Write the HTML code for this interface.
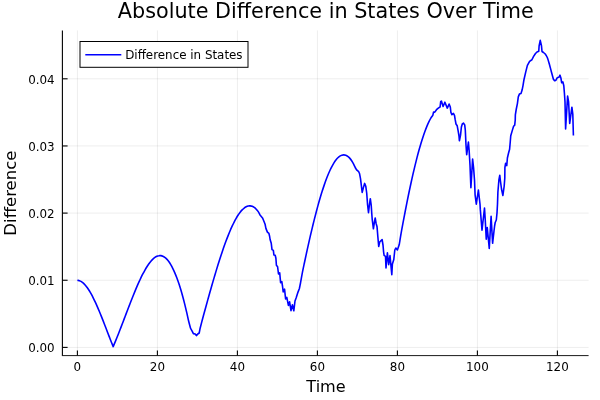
<!DOCTYPE html>
<html lang="en">
<head>
<meta charset="utf-8">
<title>Absolute Difference in States Over Time</title>
<style>
html,body{margin:0;padding:0;background:#fff;}
body{width:600px;height:400px;overflow:hidden;}
svg{display:block;}
text{font-family:"DejaVu Sans","Liberation Sans",sans-serif;fill:#000;}
.title{font-size:20.76px;}
.guide{font-size:16.3px;}
.tick{font-size:11.9px;}
.grid line{stroke:#000;stroke-opacity:0.1;stroke-width:0.7;}
.axis line{stroke:#000;stroke-width:1.1;}
</style>
</head>
<body>
<svg width="600" height="400" viewBox="0 0 600 400">
<rect width="600" height="400" fill="#fff"/>

<g class="grid">
<line x1="77.40" y1="30.4" x2="77.40" y2="355.6"/>
<line x1="157.40" y1="30.4" x2="157.40" y2="355.6"/>
<line x1="237.40" y1="30.4" x2="237.40" y2="355.6"/>
<line x1="317.40" y1="30.4" x2="317.40" y2="355.6"/>
<line x1="397.40" y1="30.4" x2="397.40" y2="355.6"/>
<line x1="477.40" y1="30.4" x2="477.40" y2="355.6"/>
<line x1="557.40" y1="30.4" x2="557.40" y2="355.6"/>
<line x1="62.4" y1="347.40" x2="588.6" y2="347.40"/>
<line x1="62.4" y1="280.25" x2="588.6" y2="280.25"/>
<line x1="62.4" y1="213.10" x2="588.6" y2="213.10"/>
<line x1="62.4" y1="145.95" x2="588.6" y2="145.95"/>
<line x1="62.4" y1="78.80" x2="588.6" y2="78.80"/>
</g>
<g class="axis">
<line x1="61.9" y1="355.6" x2="588.6" y2="355.6" style="stroke-width:1;stroke:#1a1a1a"/>
<line x1="62.4" y1="30.4" x2="62.4" y2="355.6"/>
<line x1="77.40" y1="355.6" x2="77.40" y2="350.40000000000003"/>
<line x1="157.40" y1="355.6" x2="157.40" y2="350.40000000000003"/>
<line x1="237.40" y1="355.6" x2="237.40" y2="350.40000000000003"/>
<line x1="317.40" y1="355.6" x2="317.40" y2="350.40000000000003"/>
<line x1="397.40" y1="355.6" x2="397.40" y2="350.40000000000003"/>
<line x1="477.40" y1="355.6" x2="477.40" y2="350.40000000000003"/>
<line x1="557.40" y1="355.6" x2="557.40" y2="350.40000000000003"/>
<line x1="62.4" y1="347.40" x2="67.6" y2="347.40"/>
<line x1="62.4" y1="280.25" x2="67.6" y2="280.25"/>
<line x1="62.4" y1="213.10" x2="67.6" y2="213.10"/>
<line x1="62.4" y1="145.95" x2="67.6" y2="145.95"/>
<line x1="62.4" y1="78.80" x2="67.6" y2="78.80"/>
</g>
<text class="tick" x="77.40" y="371.3" text-anchor="middle">0</text>
<text class="tick" x="157.40" y="371.3" text-anchor="middle">20</text>
<text class="tick" x="237.40" y="371.3" text-anchor="middle">40</text>
<text class="tick" x="317.40" y="371.3" text-anchor="middle">60</text>
<text class="tick" x="397.40" y="371.3" text-anchor="middle">80</text>
<text class="tick" x="477.40" y="371.3" text-anchor="middle">100</text>
<text class="tick" x="557.40" y="371.3" text-anchor="middle">120</text>
<text class="tick" x="54.65" y="352.45" text-anchor="end">0.00</text>
<text class="tick" x="54.65" y="285.30" text-anchor="end">0.01</text>
<text class="tick" x="54.65" y="218.15" text-anchor="end">0.02</text>
<text class="tick" x="54.65" y="151.00" text-anchor="end">0.03</text>
<text class="tick" x="54.65" y="83.85" text-anchor="end">0.04</text>
<text class="title" x="325.8" y="18" text-anchor="middle">Absolute Difference in States Over Time</text>
<text class="guide" style="font-size:16.1px" x="326.0" y="391.7" text-anchor="middle">Time</text>
<text class="guide" style="font-size:16.5px" transform="translate(16.2,193.1) rotate(-90)" text-anchor="middle">Difference</text>
<path d="M77.40,280.30 C78.06,280.43 78.75,280.47 79.39,280.68 C80.08,280.90 80.75,281.21 81.38,281.59 C82.09,282.03 82.75,282.55 83.37,283.11 C84.08,283.75 84.73,284.45 85.36,285.17 C86.06,285.99 86.72,286.86 87.34,287.74 C88.04,288.73 88.70,289.74 89.33,290.77 C90.03,291.90 90.69,293.06 91.32,294.22 C92.01,295.48 92.67,296.76 93.31,298.04 C94.00,299.41 94.65,300.80 95.30,302.19 C95.98,303.66 96.64,305.14 97.29,306.62 C97.97,308.17 98.63,309.73 99.28,311.29 C99.95,312.90 100.61,314.53 101.27,316.15 C101.94,317.82 102.60,319.49 103.26,321.16 C103.92,322.86 104.58,324.57 105.24,326.27 C105.91,328.00 106.57,329.72 107.23,331.45 C107.90,333.18 108.56,334.91 109.22,336.63 C109.88,338.35 110.53,340.08 111.21,341.79 C111.85,343.40 112.54,345.00 113.20,346.60 C113.86,345.01 114.53,343.43 115.18,341.84 C115.85,340.21 116.52,338.59 117.17,336.96 C117.84,335.30 118.50,333.63 119.15,331.96 C119.82,330.26 120.48,328.55 121.14,326.85 C121.80,325.13 122.46,323.40 123.12,321.68 C123.79,319.94 124.45,318.21 125.11,316.47 C125.77,314.74 126.43,313.00 127.09,311.27 C127.75,309.54 128.41,307.82 129.08,306.10 C129.73,304.40 130.39,302.69 131.06,301.00 C131.72,299.33 132.38,297.66 133.05,296.00 C133.70,294.37 134.36,292.75 135.03,291.14 C135.68,289.57 136.34,288.00 137.02,286.44 C137.66,284.94 138.32,283.44 139.00,281.95 C139.65,280.53 140.31,279.11 140.98,277.70 C141.63,276.37 142.29,275.04 142.97,273.72 C143.61,272.48 144.27,271.26 144.95,270.04 C145.59,268.92 146.25,267.80 146.94,266.71 C147.57,265.70 148.23,264.71 148.92,263.74 C149.55,262.86 150.21,262.00 150.91,261.18 C151.53,260.44 152.19,259.72 152.89,259.06 C153.52,258.47 154.17,257.90 154.88,257.41 C155.50,256.97 156.16,256.57 156.86,256.27 C157.49,255.99 158.16,255.77 158.85,255.67 C159.50,255.56 160.18,255.55 160.83,255.64 C161.51,255.73 162.19,255.93 162.82,256.21 C163.52,256.52 164.18,256.93 164.80,257.39 C165.51,257.92 166.17,258.53 166.78,259.17 C167.50,259.93 168.16,260.74 168.77,261.58 C169.48,262.56 170.14,263.57 170.75,264.61 C171.46,265.81 172.12,267.03 172.74,268.28 C173.44,269.69 174.10,271.12 174.72,272.57 C175.42,274.21 176.08,275.86 176.71,277.52 C177.41,279.37 178.06,281.23 178.69,283.11 C179.39,285.18 180.05,287.26 180.68,289.35 C181.37,291.65 182.03,293.95 182.66,296.26 C183.35,298.78 184.01,301.31 184.65,303.84 C185.33,306.58 185.99,309.33 186.63,312.09 C187.32,315.06 187.89,318.06 188.62,321.02 C189.22,323.49 189.94,325.94 190.60,328.40 L192.00,330.80 L193.40,333.60 L195.20,334.00 L196.40,335.60 L197.80,334.00 L199.20,333.00 L200.00,328.80 C200.67,326.18 201.32,323.56 202.01,320.95 C202.66,318.49 203.35,316.03 204.02,313.57 C204.68,311.13 205.35,308.69 206.03,306.24 C206.69,303.82 207.36,301.40 208.03,298.98 C208.70,296.59 209.37,294.20 210.04,291.82 C210.71,289.47 211.37,287.12 212.05,284.77 C212.71,282.46 213.38,280.16 214.06,277.86 C214.72,275.61 215.39,273.37 216.07,271.12 C216.73,268.94 217.40,266.76 218.07,264.58 C218.73,262.46 219.40,260.35 220.08,258.25 C220.74,256.21 221.41,254.18 222.09,252.16 C222.75,250.21 223.42,248.27 224.10,246.33 C224.75,244.48 225.42,242.64 226.11,240.80 C226.76,239.05 227.43,237.31 228.12,235.58 C228.77,233.94 229.43,232.31 230.12,230.70 C230.77,229.18 231.44,227.67 232.13,226.18 C232.78,224.79 233.44,223.41 234.14,222.05 C234.78,220.79 235.45,219.55 236.15,218.33 C236.79,217.22 237.45,216.12 238.16,215.05 C238.79,214.08 239.46,213.14 240.17,212.23 C240.80,211.42 241.46,210.63 242.18,209.89 C242.80,209.24 243.47,208.62 244.18,208.07 C244.81,207.58 245.48,207.13 246.19,206.78 C246.83,206.46 247.50,206.20 248.20,206.05 C248.86,205.90 249.54,205.85 250.21,205.90 C250.89,205.95 251.58,206.11 252.22,206.36 C252.93,206.63 253.60,207.01 254.22,207.45 C254.95,207.97 255.62,208.56 256.23,209.20 C256.96,209.96 257.66,210.76 258.24,211.63 C259.00,212.78 259.58,214.04 260.25,215.25 L262.50,217.90 L263.60,220.50 L265.10,224.25 L265.90,228.40 L267.40,232.10 L268.90,233.40 L269.60,236.25 L270.10,239.50 L271.25,243.25 L272.00,249.60 L273.35,250.40 L273.90,254.90 L275.20,255.25 L275.90,258.25 L276.40,265.25 L277.60,266.75 L278.50,274.00 L279.70,272.80 L280.60,282.60 L281.80,281.60 L282.50,286.00 L283.20,291.90 L284.55,289.20 L285.60,299.00 L286.80,297.40 L288.40,305.40 L289.60,301.80 L291.00,310.60 L292.40,304.80 L293.80,310.80 L295.00,301.00 L296.20,297.80 L298.00,292.10 L299.40,288.50 L300.50,283.00 C301.16,279.39 301.77,275.77 302.47,272.17 C303.08,269.01 303.77,265.87 304.44,262.72 C305.08,259.65 305.74,256.58 306.40,253.51 C307.05,250.53 307.71,247.54 308.37,244.57 C309.02,241.68 309.67,238.80 310.34,235.92 C310.98,233.13 311.64,230.35 312.31,227.58 C312.95,224.91 313.60,222.24 314.27,219.58 C314.92,217.02 315.57,214.47 316.24,211.93 C316.88,209.50 317.54,207.08 318.21,204.66 C318.85,202.37 319.50,200.08 320.18,197.80 C320.82,195.65 321.47,193.50 322.15,191.36 C322.78,189.36 323.43,187.36 324.11,185.37 C324.75,183.52 325.40,181.67 326.08,179.84 C326.71,178.15 327.36,176.47 328.05,174.81 C328.68,173.29 329.33,171.78 330.02,170.28 C330.64,168.94 331.29,167.60 331.99,166.30 C332.60,165.13 333.25,163.98 333.95,162.86 C334.57,161.89 335.22,160.93 335.92,160.01 C336.53,159.22 337.18,158.46 337.89,157.76 C338.50,157.17 339.15,156.61 339.86,156.14 C340.47,155.73 341.13,155.39 341.83,155.16 C342.46,154.95 343.13,154.83 343.79,154.85 C344.46,154.86 345.13,154.99 345.76,155.22 C346.46,155.49 347.13,155.87 347.73,156.32 C348.45,156.85 349.10,157.47 349.70,158.14 C350.42,158.95 351.07,159.82 351.66,160.72 C352.38,161.81 353.03,162.93 353.63,164.08 C354.35,165.46 354.94,166.89 355.60,168.30 L356.90,170.20 L358.70,171.70 L359.60,173.80 L360.50,178.60 L361.30,185.20 L362.20,192.40 L363.40,187.60 L364.60,183.40 L365.80,186.40 L366.70,193.00 L367.60,205.00 L368.50,212.60 L369.40,205.00 L370.30,198.70 L371.20,205.00 L371.80,214.00 L372.20,219.20 L373.40,228.80 L374.30,222.80 L375.20,218.00 L376.10,223.40 L377.00,226.40 L377.30,230.00 L377.90,237.20 L378.70,246.50 L379.70,242.00 L382.10,239.50 L383.00,245.00 L383.60,252.00 L384.10,255.30 L385.50,256.30 L386.00,267.90 L387.40,252.80 L388.70,264.70 L390.00,255.60 L391.80,274.60 L392.40,264.00 L393.80,259.50 L394.80,250.00 L395.80,248.00 L397.40,250.00 L399.20,244.80 C399.86,240.83 400.48,236.85 401.18,232.88 C401.80,229.30 402.48,225.72 403.15,222.15 C403.80,218.68 404.46,215.21 405.13,211.74 C405.78,208.39 406.43,205.04 407.11,201.69 C407.75,198.47 408.41,195.24 409.08,192.02 C409.73,188.93 410.38,185.84 411.06,182.76 C411.70,179.81 412.36,176.87 413.04,173.93 C413.68,171.13 414.33,168.34 415.01,165.56 C415.65,162.92 416.31,160.29 416.99,157.67 C417.63,155.20 418.28,152.74 418.96,150.29 C419.60,148.00 420.26,145.72 420.94,143.45 C421.57,141.34 422.23,139.25 422.92,137.16 C423.55,135.26 424.20,133.36 424.89,131.47 C425.52,129.76 426.17,128.07 426.87,126.39 C427.49,124.89 428.14,123.41 428.85,121.95 C429.46,120.67 430.09,119.38 430.82,118.17 C431.41,117.20 432.14,116.32 432.80,115.40 L433.60,112.00 L434.80,112.10 L436.50,109.70 L438.60,107.90 L440.10,107.00 L440.70,101.60 L441.40,101.00 L443.10,106.40 L444.90,102.20 L447.30,108.10 L449.10,104.10 L450.30,107.00 L450.90,112.40 L451.90,114.70 L453.40,113.40 L454.50,115.40 L455.10,119.20 L456.00,124.00 L457.20,125.80 L458.10,130.60 L459.00,136.00 L459.40,140.80 L460.50,135.40 L461.40,127.00 L462.30,124.00 L463.50,123.10 L464.70,124.90 L465.30,130.00 L466.00,145.00 L466.70,154.60 L468.40,142.10 L469.10,150.00 L470.00,165.00 L470.90,187.70 L472.60,159.10 L473.60,168.00 L474.50,180.00 L475.10,195.00 L476.30,204.20 L478.40,190.00 L479.30,198.00 L480.00,204.00 L480.30,209.40 L482.00,230.20 L484.50,208.00 L485.25,220.00 L486.25,239.10 L487.25,227.50 L489.25,248.40 L491.10,216.40 L492.60,243.30 L494.00,231.00 L494.60,226.00 L495.20,222.50 L496.30,220.00 L497.00,213.00 L497.50,204.00 L497.90,192.00 L498.90,180.00 L499.80,175.25 L500.30,180.00 L501.50,189.00 L502.90,195.50 L504.20,186.00 L504.80,178.00 L504.90,167.50 L505.60,163.30 L506.75,165.60 L507.40,158.00 L508.50,153.20 L509.60,149.25 L510.20,142.50 L510.75,135.75 L512.40,130.10 L513.60,126.20 L514.70,125.10 L515.25,120.00 L515.35,114.90 L516.25,109.25 L517.40,103.60 L518.30,96.90 L519.40,94.10 L521.00,93.50 L522.10,90.10 L523.00,85.60 L523.90,80.00 L525.70,72.10 L527.40,65.40 L529.60,61.40 L531.90,59.75 L533.60,56.40 L535.50,53.50 L537.00,52.00 L538.75,51.25 L539.10,46.00 L540.25,40.30 L541.50,46.00 L542.00,51.50 L543.50,52.50 L545.25,54.00 C545.93,55.17 546.78,56.25 547.29,57.50 C548.14,59.59 548.70,61.80 549.33,63.97 C550.06,66.55 550.67,69.17 551.36,71.76 C552.03,74.24 552.72,76.72 553.40,79.20 L554.60,80.70 L555.80,80.40 L557.30,77.70 L559.10,77.10 L560.00,75.20 L560.90,78.00 L561.70,82.80 L562.90,81.90 L563.80,85.80 L564.40,93.00 L565.00,101.70 L565.60,128.90 L567.60,96.10 L568.60,102.00 L569.70,123.50 L571.90,107.20 L572.80,114.00 L573.40,135.40" fill="none" stroke="#0000ff" stroke-width="1.6" stroke-linejoin="round" stroke-linecap="butt"/>
<rect x="80" y="41.5" width="168" height="25.8" fill="#fff" stroke="#000" stroke-width="1"/>
<line x1="85.3" y1="54.65" x2="121.3" y2="54.65" stroke="#0000ff" stroke-width="1.5"/>
<text class="tick" x="125.2" y="58.9">Difference in States</text>
</svg>
</body>
</html>
